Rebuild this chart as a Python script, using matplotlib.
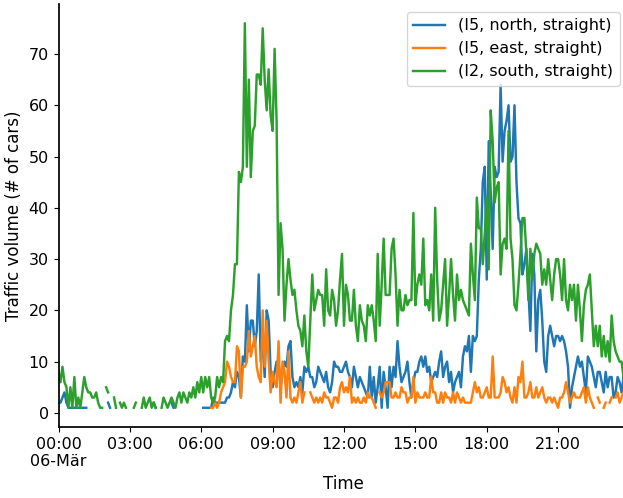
import numpy as np
import matplotlib.pyplot as plt

nan = np.nan

# Traffic counts per 5 minutes on 06 March, one row per hour (00:00 ... 23:00)
i5_north = [
    2, 2, 3, 4, 2, 1, 1, 1, 1, 1, 1, 1,
    1, 1, 1, nan, nan, nan, nan, nan, nan, nan, nan, nan,
    nan, 2, 1, nan, nan, nan, nan, nan, nan, nan, nan, nan,
    nan, nan, nan, nan, nan, nan, nan, nan, nan, nan, nan, nan,
    2, 1, nan, nan, nan, nan, nan, nan, nan, 2, 1, nan,
    nan, nan, nan, nan, nan, nan, nan, nan, nan, nan, nan, nan,
    nan, 1, 1, 1, 1, 1, 3, 2, 2, 2, 2, 2,
    2, 3, 3, 4, 6, 5, 8, 7, 3, 11, 10, 21,
    12, 18, 18, 13, 16, 27, 10, 14, 7, 20, 18, 8,
    5, 8, 10, 10, 5, 8, 10, 9, 13, 14, 7, 5,
    6, 5, 7, 4, 9, 8, 9, 7, 7, 5, 6, 9,
    8, 7, 6, 8, 5, 4, 6, 10, 9, 9, 8, 8,
    9, 10, 8, 7, 5, 9, 7, 5, 7, 6, 5, 4,
    3, 9, 3, 7, 2, 5, 9, 1, 8, 5, 1, 9,
    5, 9, 7, 14, 9, 6, 7, 8, 10, 6, 3, 6,
    8, 8, 10, 11, 9, 11, 8, 9, 6, 7, 8, 7,
    10, 12, 7, 9, 10, 6, 8, 4, 6, 7, 8, 5,
    11, 13, 12, 15, 8, 15, 14, 15, 26, 32, 45, 48,
    26, 53, 43, 32, 48, 46, 47, 64, 49, 55, 57, 60,
    49, 50, 60, 45, 38, 37, 27, 29, 32, 24, 16, 31,
    27, 12, 22, 24, 18, 10, 8, 15, 17, 15, 13, 15,
    15, 14, 15, 14, 12, 9, 1, 5, 7, 9, 11, 9,
    10, 7, 4, 11, 10, 9, 7, 5, 8, 8, 6, 4,
    8, 5, 7, 7, 3, 4, 7, 6, 4, 7, 6, 5,
]

i5_east = [nan] * 72 + [
    nan, nan, nan, nan, nan, 1, 1, 2, 1, 2, 4, 5,
    6, 10, 9, 7, 6, 6, 13, 12, 3, 9, 9, 10,
    16, 11, 13, 15, 9, 7, 6, 20, 9, 18, 10, 4,
    8, 6, 5, 14, 2, 10, 8, 3, 12, 3, 2, 3,
    2, 4, 6, 2, 4, nan, nan, 4, 3, 2, 3, 2,
    3, 2, 4, 3, 3, 2, 1, 3, 3, 2, 5, 6,
    4, 5, 4, 7, 2, 3, 2, 3, 2, 2, 3, 2,
    4, 3, 3, 2, 1, nan, 4, 3, 4, 6, 6, 6,
    3, 3, 4, 3, 3, 5, 4, 4, 2, 3, 3, 7,
    2, 4, 3, 3, 3, 4, 3, 3, 7, 4, 4, 2,
    2, 4, 2, 4, 3, 3, 2, 4, 2, 4, 3, 2,
    3, 2, 2, 2, 2, 4, 6, 4, 5, 3, 3, 4,
    5, 3, 3, 11, 3, 3, 3, 4, 7, 6, 4, 5,
    3, 2, 5, 2, 7, 6, 10, 3, 3, 4, 6, 3,
    3, 5, 3, 4, 5, 3, 2, 3, 3, 2, 3, 2,
    1, 3, 3, 4, 6, 4, 2, 3, 4, 3, 3, 3,
    4, 5, 2, 5, 3, 2, 1, nan, 3, 2, nan, 1,
    2, nan, 2, 3, nan, 3, 4, 2, 3, 4, 4, 3,
]

i2_south = [
    8, 6, 9, 6, 5, 1, 5, 1, 7, 1, 3, 1,
    4, 7, 5, 4, 4, 3, 3, 4, 2, 1, 1, nan,
    5, 4, nan, nan, 3, 1, nan, 2, 1, 2, 1, nan,
    nan, nan, 1, 2, nan, nan, 1, 3, 1, 2, 3, 1,
    2, 1, nan, nan, 1, 3, 2, 1, 2, 3, 2, 1,
    3, 4, 2, 4, 3, 2, 4, 3, 5, 3, 6, 4,
    7, 4, 7, 5, 7, 3, 2, 3, 7, 5, 7, 6,
    14, 15, 14, 20, 23, 29, 29, 47, 45, 48, 76, 48,
    65, 46, 55, 56, 66, 66, 64, 75, 65, 59, 67, 58,
    55, 71, 57, 23, 37, 32, 18, 25, 30, 26, 23, 24,
    20, 17, 16, 13, 19, 12, 9, 18, 27, 20, 22, 24,
    23, 23, 17, 28, 20, 19, 24, 22, 17, 20, 26, 31,
    17, 25, 23, 18, 18, 24, 17, 14, 21, 18, 17, 14,
    21, 19, 21, 18, 14, 31, 17, 25, 34, 23, 23, 23,
    32, 34, 27, 17, 24, 20, 20, 23, 21, 22, 22, 39,
    21, 25, 27, 25, 34, 21, 22, 20, 27, 18, 40, 26,
    18, 20, 25, 30, 17, 23, 30, 23, 18, 27, 22, 24,
    22, 21, 20, 19, 33, 27, 22, 42, 36, 36, 29, 35,
    42, 28, 59, 53, 41, 44, 45, 27, 33, 34, 32, 55,
    34, 30, 21, 20, 25, 31, 38, 38, 31, 22, 32, 26,
    31, 33, 32, 31, 25, 28, 25, 30, 26, 22, 27, 30,
    30, 27, 22, 30, 22, 20, 25, 22, 25, 18, 25, 20,
    14, 21, 24, 25, 27, 20, 13, 17, 13, 17, 11, 15,
    11, 14, 10, 19, 14, 12, 11, 10, 10, 7, 8, 7,
]

series = [
    ("(I5, north, straight)", i5_north),
    ("(I5, east, straight)", i5_east),
    ("(I2, south, straight)", i2_south),
]
tick_hours = [0, 3, 6, 9, 12, 15, 18, 21]
tick_labels = ["00:00\n06-Mär", "03:00", "06:00", "09:00",
               "12:00", "15:00", "18:00", "21:00"]

hours = np.arange(288) / 12.0

plt.rcParams["xtick.labelsize"] = 11.5
plt.rcParams["ytick.labelsize"] = 11.5
plt.rcParams["axes.labelsize"] = 12
plt.rcParams["legend.fontsize"] = 11.5
plt.rcParams["axes.linewidth"] = 1.25

fig = plt.figure(figsize=(6.23, 4.98), dpi=100)
ax = fig.add_axes([58.5 / 623, 71 / 498, 569 / 623, 423 / 498])

for name, values in series:
    ax.plot(hours, np.array(values, dtype=float), label=name, linewidth=1.75)

ax.set_xlim(hours[0], hours[-1])
ax.set_xticks(tick_hours)
ax.set_xticklabels(tick_labels)
ax.set_xlabel("Time")
ax.set_ylabel("Traffic volume (# of cars)")
ax.spines["top"].set_visible(False)
ax.spines["right"].set_visible(False)
ax.legend(loc="upper right")

fig.savefig("out.png", dpi=100)
